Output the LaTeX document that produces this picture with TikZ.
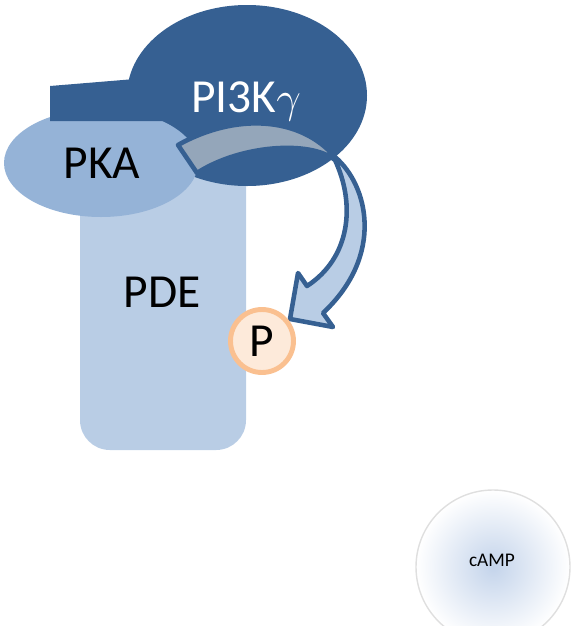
\documentclass[tikz,border=0pt]{standalone}
\usepackage{fontspec}
\setmainfont{Carlito}
\definecolor{darkblue}{RGB}{54,96,146}
\definecolor{pkablue}{RGB}{149,179,215}
\definecolor{pdeblue}{RGB}{185,205,229}
\definecolor{arrowgray}{RGB}{148,166,186}
\definecolor{pfill}{RGB}{253,234,218}
\definecolor{pline}{RGB}{250,192,144}
\definecolor{campblue}{RGB}{196,212,235}
\newcommand{\bentarrow}{(178,145) .. controls (235,113) and (300,116) .. (335,157)
  .. controls (368,185) and (385,255) .. (323,313) -- (333,327) -- (290,319)
  -- (298,273) -- (307,286) .. controls (350,258) and (356,205) .. (335,160)
  .. controls (310,140) and (240,145) .. (197,173) -- cycle}

\begin{document}
\begin{tikzpicture}[x=0.02cm,y=-0.02cm]
\fontsize{27}{32}\selectfont
\useasboundingbox (0,0) rectangle (572,626);
\fill[pdeblue,rounded corners=17pt] (80,150) rectangle (246,450);
\fill[darkblue] (247,95.5) ellipse (120 and 90.5);
\fill[pkablue] (101,163) ellipse (97 and 54);
\fill[darkblue] (50,86) -- (135,79) -- (168,121) -- (50,121) -- cycle;
% arrow, darker where it lies on PI3K
\fill[pdeblue] \bentarrow;
\begin{scope}
\clip (247,95.5) ellipse (120 and 90.5);
\fill[arrowgray] \bentarrow;
\end{scope}
\draw[darkblue,line width=2.6pt,line join=round] \bentarrow;
\node[circle,draw=pline,fill=pfill,line width=2.8pt,minimum size=1.26cm,inner sep=0pt] (p) at (262,341) {P};
\node[anchor=base,white] (pi3k) at (246,112) {PI3K$\gamma$};
\node[anchor=base] (pka) at (102,178) {PKA};
\node[anchor=base] (pde) at (162,307) {PDE};
% cAMP
\begin{scope}
\clip (0,0) rectangle (572,626);
\shade[inner color=campblue,outer color=white] (493,567) circle (77);
\draw[gray!25,line width=0.8pt] (493,567) circle (77);
\end{scope}
\node[anchor=base,font=\fontsize{11}{13}\selectfont] (camp) at (492,566) {cAMP};
\end{tikzpicture}
\end{document}
